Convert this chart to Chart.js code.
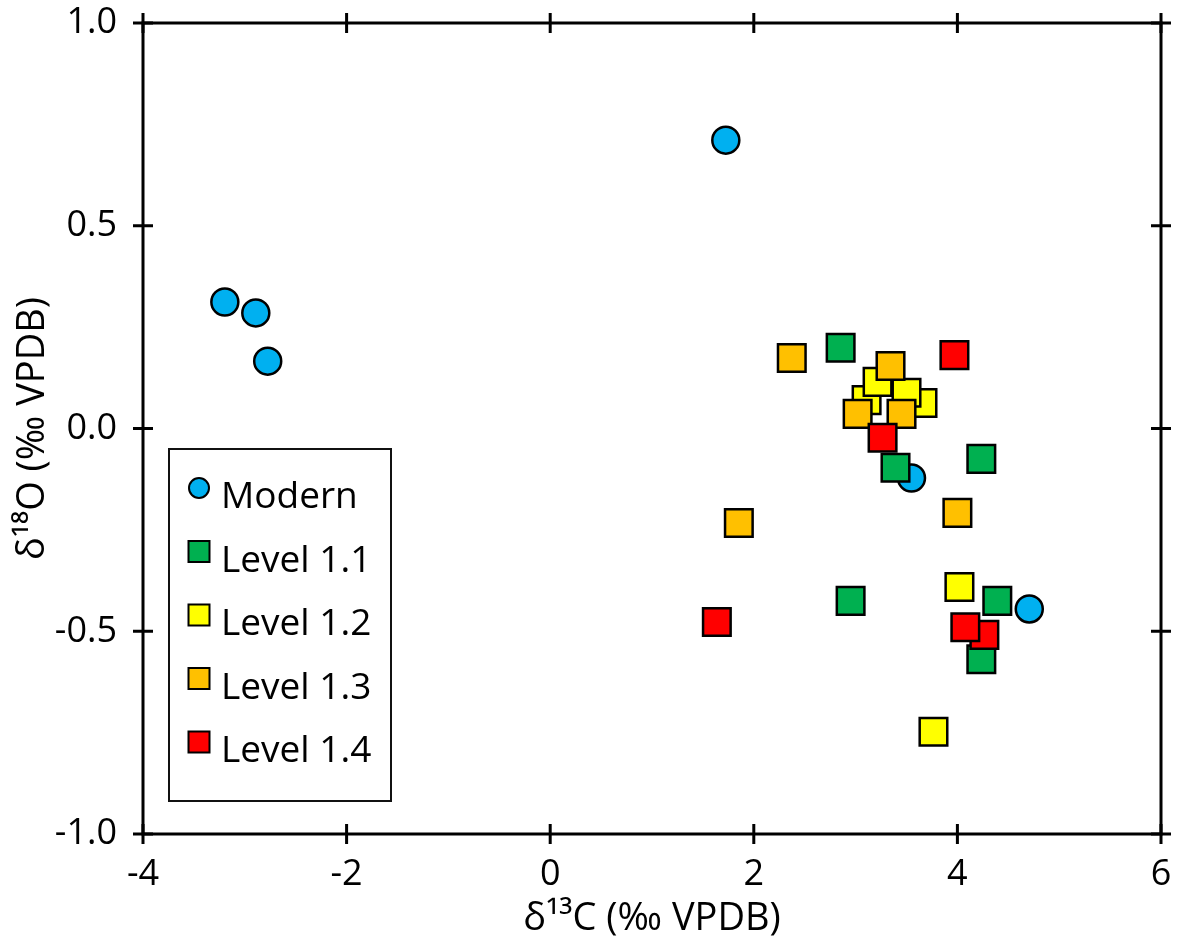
<!DOCTYPE html>
<html>
<head>
<meta charset="utf-8">
<script src="https://cdn.jsdelivr.net/npm/chart.js@4.4.0/dist/chart.umd.min.js"></script>
<style>
  html, body { margin: 0; padding: 0; background: #fff; }
  #wrap { width: 1183px; height: 947px; }
</style>
</head>
<body>
<div id="wrap"><canvas id="chart"></canvas></div>
<script>
// values (d13C, d18O in permil VPDB)
const seriesNames = ["Modern", "Level 1.1", "Level 1.2", "Level 1.3", "Level 1.4"];

const modernC = [1.725, -3.196, -2.892, -2.775, 3.549, 4.706];
const modernO = [0.711, 0.312, 0.285, 0.166, -0.122, -0.445];

const level11C = [2.853, 3.392, 4.235, 2.951, 4.392, 4.235];
const level11O = [0.199, -0.097, -0.075, -0.425, -0.425, -0.569];

const level12C = [3.108, 3.216, 3.657, 3.500, 4.020, 3.765];
const level12O = [0.070, 0.115, 0.063, 0.088, -0.391, -0.748];

const level13C = [2.373, 3.343, 3.020, 3.451, 4.000, 1.853];
const level13O = [0.174, 0.154, 0.036, 0.036, -0.208, -0.233];

const level14C = [3.971, 3.265, 1.637, 4.265, 4.078];
const level14O = [0.181, -0.023, -0.477, -0.509, -0.490];

const xTicks = [-4, -2, 0, 2, 4, 6];
const yTicks = [-1.0, -0.5, 0.0, 0.5, 1.0];

const colors = ["#00b0f0", "#00b050", "#ffff00", "#ffc000", "#ff0000"];
const shapes = ["circle", "rect", "rect", "rect", "rect"];

function pts(xs, ys) {
    return xs.map((v, i) => ({ x: v, y: ys[i] }));
}

const allData = [
    pts(modernC, modernO),
    pts(level11C, level11O),
    pts(level12C, level12O),
    pts(level13C, level13O),
    pts(level14C, level14O)
];

Chart.defaults.font.family = "'Open Sans', sans-serif";
Chart.defaults.color = "#000";

// box round the plot with ticks crossing every side
const frameTicks = {
    id: "frameTicks",
    beforeDatasetsDraw(chart) {
        const { ctx, chartArea: a, scales } = chart;
        const len = 10;
        ctx.save();
        ctx.strokeStyle = "#000";
        ctx.lineWidth = 3;
        ctx.strokeRect(a.left, a.top, a.right - a.left, a.bottom - a.top);
        ctx.beginPath();
        xTicks.forEach(v => {
            const px = scales.x.getPixelForValue(v);
            ctx.moveTo(px, a.top - len); ctx.lineTo(px, a.top + len);
            ctx.moveTo(px, a.bottom - len); ctx.lineTo(px, a.bottom + len);
        });
        yTicks.forEach(v => {
            const py = scales.y.getPixelForValue(v);
            ctx.moveTo(a.left - len, py); ctx.lineTo(a.left + len, py);
            ctx.moveTo(a.right - len, py); ctx.lineTo(a.right + len, py);
        });
        ctx.stroke();
        ctx.restore();
    }
};

// legend box in the lower left of the plot
const boxLegend = {
    id: "boxLegend",
    afterDatasetsDraw(chart) {
        const { ctx } = chart;
        const bx = 169, by = 449, bw = 222, bh = 352;
        ctx.save();
        ctx.fillStyle = "#fff";
        ctx.fillRect(bx, by, bw, bh);
        ctx.strokeStyle = "#111";
        ctx.lineWidth = 2;
        ctx.strokeRect(bx, by, bw, bh);
        ctx.font = "37px 'Open Sans', sans-serif";
        ctx.textBaseline = "alphabetic";
        chart.data.datasets.forEach((ds, i) => {
            const cy = 488 + i * 63.5;
            const cx = 199;
            ctx.fillStyle = ds.pointBackgroundColor;
            ctx.strokeStyle = "#000";
            ctx.lineWidth = 2;
            ctx.beginPath();
            if (ds.pointStyle === "circle") {
                ctx.arc(cx, cy, 10, 0, Math.PI * 2);
            } else {
                ctx.rect(cx - 10.5, cy - 10.5, 21, 21);
            }
            ctx.fill();
            ctx.stroke();
            ctx.fillStyle = "#000";
            ctx.fillText(ds.label, 221, cy + 20);
        });
        ctx.restore();
    }
};

const ctx = document.getElementById("chart").getContext("2d");
new Chart(ctx, {
    type: "scatter",
    data: {
        datasets: seriesNames.map((name, i) => ({
            label: name,
            data: allData[i],
            pointStyle: shapes[i],
            pointRadius: shapes[i] === "circle" ? 13.5 : 19.5,
            pointHoverRadius: shapes[i] === "circle" ? 13.5 : 19.5,
            pointBackgroundColor: colors[i],
            pointBorderColor: "#000",
            pointBorderWidth: 2.5,
            order: seriesNames.length - i
        }))
    },
    options: {
        responsive: true,
        maintainAspectRatio: false,
        animation: false,
        layout: { padding: 0 },
        plugins: {
            legend: { display: false },
            tooltip: { enabled: false }
        },
        scales: {
            x: {
                type: "linear",
                min: -4,
                max: 6,
                afterBuildTicks: s => { s.ticks = xTicks.map(v => ({ value: v })); },
                afterFit: s => {
                    s.height = 113;
                    s.paddingLeft = 0;
                    s.paddingRight = 20;
                },
                grid: { display: false, drawTicks: false },
                border: { display: false },
                ticks: {
                    padding: 19,
                    font: { size: 36 },
                    callback: v => String(v)
                },
                title: {
                    display: true,
                    text: "δ¹³C (‰ VPDB)",
                    font: { size: 38 },
                    padding: { top: 0, bottom: 5 }
                }
            },
            y: {
                type: "linear",
                min: -1,
                max: 1,
                afterBuildTicks: s => { s.ticks = yTicks.map(v => ({ value: v })); },
                afterFit: s => {
                    s.width = 143;
                    s.paddingTop = 23;
                    s.paddingBottom = 0;
                },
                grid: { display: false, drawTicks: false },
                border: { display: false },
                ticks: {
                    padding: 26,
                    font: { size: 36 },
                    callback: v => Number(v).toFixed(1)
                },
                title: {
                    display: true,
                    text: "δ¹⁸O (‰ VPDB)",
                    font: { size: 38 },
                    padding: { top: 10, bottom: 0 }
                }
            }
        }
    },
    plugins: [frameTicks, boxLegend]
});
</script>
</body>
</html>
